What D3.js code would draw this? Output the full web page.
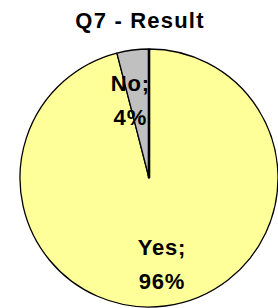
<!DOCTYPE html>
<html>
<head>
<meta charset="utf-8">
<script src="https://cdn.jsdelivr.net/npm/d3@7"></script>
<style>
  html, body { margin: 0; padding: 0; background: #fff; }
  svg { display: block; }
  text { font-family: "Liberation Sans", Arial, sans-serif; font-weight: bold; fill: #000; }
</style>
</head>
<body>
<svg id="chart" width="278" height="308"></svg>
<script>
const title = "Q7 - Result";
const categories = ["Yes", "No"];
const values = [96, 4];
const colors = ["#FFFF99", "#C0C0C0"];

const W = 278, H = 308;
const cx = 149, cy = 178, R = 129;

const svg = d3.select("#chart");
svg.append("rect").attr("width", W).attr("height", H).attr("fill", "#fff");

svg.append("text")
  .attr("x", 140).attr("y", 28)
  .attr("text-anchor", "middle")
  .style("font-size", "22px")
  .style("letter-spacing", "1.2px")
  .text(title);

const data = categories.map((c, i) => ({ cat: c, value: values[i], color: colors[i] }));
const pie = d3.pie().sort(null).value(d => d.value);
const arcs = pie(data);
const arc = d3.arc().innerRadius(0).outerRadius(R);

const g = svg.append("g").attr("transform", `translate(${cx},${cy})`);
g.selectAll("path.slice").data(arcs).join("path")
  .attr("class", "slice")
  .attr("d", arc)
  .attr("fill", d => d.data.color)
  .attr("stroke", "#000")
  .attr("stroke-width", 1.3)
  .attr("stroke-linejoin", "round");

// emphasised start radius (12 o'clock)
const a0 = arcs[0].startAngle;
g.append("line")
  .attr("x1", 0).attr("y1", 0)
  .attr("x2", R * Math.sin(a0)).attr("y2", -R * Math.cos(a0))
  .attr("stroke", "#000").attr("stroke-width", 2.6);

// labels
const labelRadius = [0.68 * R, 0.60 * R];
const nudgeX = [2, -9];
arcs.forEach((a, i) => {
  const la = d3.arc().innerRadius(labelRadius[i]).outerRadius(labelRadius[i]);
  const [x, y] = la.centroid(a);
  const t = g.append("text")
    .attr("text-anchor", "middle")
    .style("font-size", "22px")
    .style("letter-spacing", "0.8px");
  t.append("tspan").attr("x", x + nudgeX[i]).attr("y", y - 10).text(`${a.data.cat};`);
  t.append("tspan").attr("x", x + nudgeX[i]).attr("y", y + 24).text(`${a.data.value}%`);
});
</script>
</body>
</html>
